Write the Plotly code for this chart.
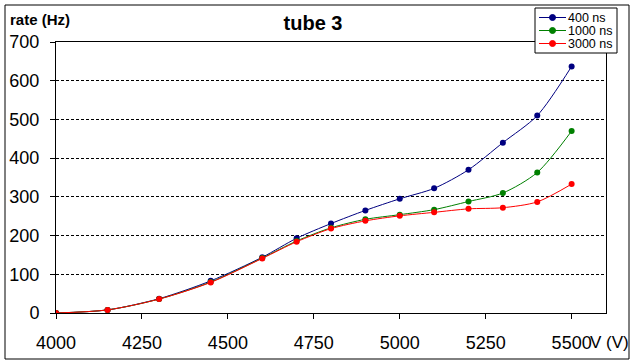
import plotly.graph_objects as go

voltage = [4000, 4150, 4300, 4450, 4600, 4700, 4800, 4900, 5000, 5100, 5200, 5300, 5400, 5500]
rate_400ns = [0, 8, 37, 83, 144, 193, 231, 265, 295, 322, 370, 440, 510, 637]
rate_1000ns = [0, 8, 36, 80, 142, 186, 220, 242, 254, 267, 288, 310, 363, 470]
rate_3000ns = [0, 8, 36, 79, 141, 184, 218, 238, 251, 260, 269, 272, 287, 333]

series_names = ["400 ns", "1000 ns", "3000 ns"]
series_colors = ["#000080", "#008000", "#FF0000"]
series_values = [rate_400ns, rate_1000ns, rate_3000ns]

x_ticks = [4000, 4250, 4500, 4750, 5000, 5250, 5500]
y_ticks = [0, 100, 200, 300, 400, 500, 600, 700]

FONT = "Liberation Sans, Arial, sans-serif"

# plot area in pixels (page is 636x363)
PL, PR, PT, PB = 56, 606, 42, 313
PW, PH = PR - PL, PB - PT


def px(x):
    return (x - PL) / PW


def py(y):
    return (PB - y) / PH


fig = go.Figure()
for name, color, vals in zip(series_names, series_colors, series_values):
    fig.add_trace(go.Scatter(
        x=voltage, y=vals, name=name, mode="lines+markers",
        line=dict(color=color, width=1, shape="spline", smoothing=0.8),
        marker=dict(color=color, size=6, symbol="circle"),
        showlegend=False,
    ))

shapes = [
    # outer chart border
    dict(type="rect", xref="paper", yref="paper",
         x0=px(5), x1=px(629), y0=py(359), y1=py(5),
         line=dict(color="black", width=1), fillcolor="rgba(0,0,0,0)", layer="below"),
    # legend box
    dict(type="rect", xref="paper", yref="paper",
         x0=px(535), x1=px(617), y0=py(53), y1=py(8),
         line=dict(color="black", width=1), fillcolor="white", layer="above"),
]
annotations = [
    dict(text="<b>rate (Hz)</b>", xref="paper", yref="paper",
         x=px(8), y=py(20), xanchor="left", yanchor="middle",
         showarrow=False, font=dict(size=15, family=FONT, color="black")),
    dict(text="V (V)", xref="paper", yref="paper",
         x=px(588), y=py(342), xanchor="left", yanchor="middle",
         showarrow=False, font=dict(size=17, family=FONT, color="black")),
]
legend_rows = [17.5, 30.5, 43.5]
for name, color, ly in zip(series_names, series_colors, legend_rows):
    shapes.append(dict(type="line", xref="paper", yref="paper",
                       x0=px(539), x1=px(566), y0=py(ly), y1=py(ly),
                       line=dict(color=color, width=1), layer="above"))
    shapes.append(dict(type="circle", xref="paper", yref="paper",
                       x0=px(549.5), x1=px(555.5), y0=py(ly + 3), y1=py(ly - 3),
                       line=dict(color=color, width=1), fillcolor=color, layer="above"))
    annotations.append(dict(text=name, xref="paper", yref="paper",
                            x=px(567), y=py(ly), xanchor="left", yanchor="middle",
                            showarrow=False, borderpad=0,
                            font=dict(size=12.5, family=FONT, color="black")))

fig.update_layout(
    width=636, height=363,
    margin=dict(l=PL, r=636 - PR, t=PT, b=363 - PB, autoexpand=False),
    paper_bgcolor="white", plot_bgcolor="white",
    font=dict(family=FONT, color="black"),
    title=dict(text="<b>tube 3</b>", x=313/636, xref="container", xanchor="center",
               y=1-23/363, yref="container", yanchor="middle",
               font=dict(size=20, family=FONT, color="black")),
    showlegend=False,
    xaxis=dict(range=[4000, 5600], tickvals=x_ticks, ticktext=[str(v) for v in x_ticks],
               showgrid=False, zeroline=False, showline=True, linecolor="black", linewidth=1,
               mirror=True, ticks="outside", ticklen=5, tickcolor="black", automargin=False,
               tickfont=dict(size=18, family=FONT, color="black"), ticklabelstandoff=8),
    yaxis=dict(range=[0, 700], tickvals=y_ticks, ticktext=[str(v) for v in y_ticks],
               showgrid=True, gridcolor="black", gridwidth=1, griddash="3px,2px",
               zeroline=False, showline=True, linecolor="black", linewidth=1,
               mirror=True, ticks="outside", ticklen=5, tickcolor="black", automargin=False,
               tickfont=dict(size=18, family=FONT, color="black"), ticklabelstandoff=7),
    annotations=annotations,
    shapes=shapes,
)

fig.write_html(
    "out.html",
    config={"displayModeBar": False},
    post_script="document.body.style.margin='0';document.body.style.padding='0';",
)
